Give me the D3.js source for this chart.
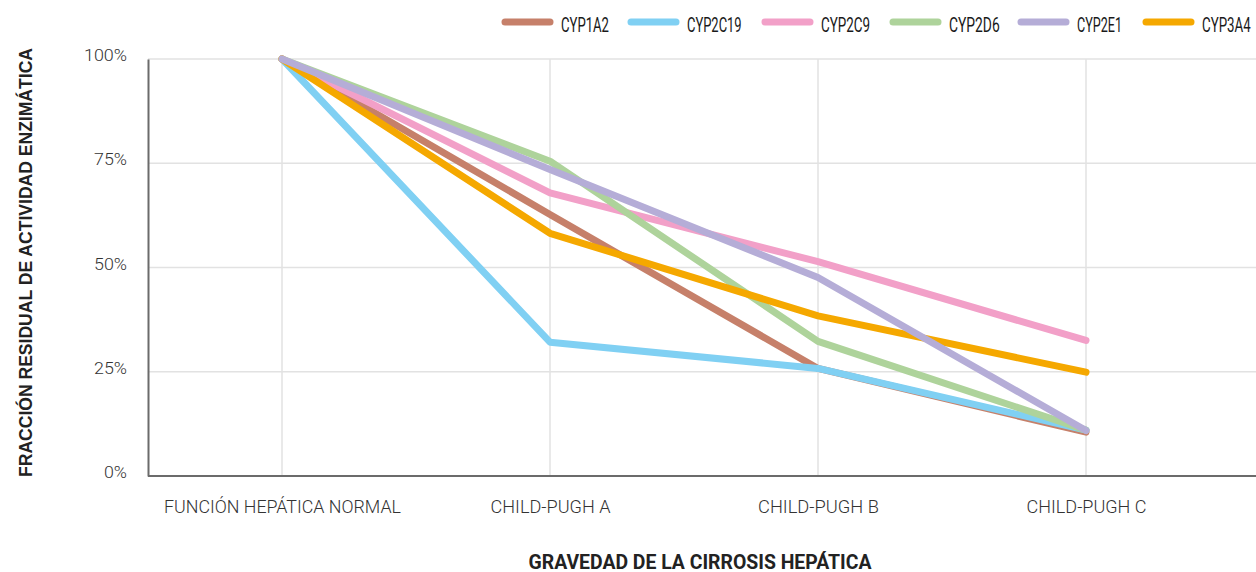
<!DOCTYPE html>
<html><head><meta charset="utf-8">
<script src="https://cdn.jsdelivr.net/npm/d3@7"></script>
<style>
body{margin:0;background:#fff;}
text{font-family:"Roboto","Liberation Sans",sans-serif;}
</style></head>
<body><svg id="c" width="1256" height="572"></svg>
<script>
const categories = ["FUNCIÓN HEPÁTICA NORMAL","CHILD-PUGH A","CHILD-PUGH B","CHILD-PUGH C"];
const seriesNames = ["CYP1A2","CYP2C19","CYP2C9","CYP2D6","CYP2E1","CYP3A4"];
const CYP1A2  = [100, 62.7, 25.8, 10.5];
const CYP2C19 = [100, 32.1, 25.8, 11.0];
const CYP2C9  = [100, 67.9, 51.4, 32.5];
const CYP2D6  = [100, 75.5, 32.3, 11.0];
const CYP2E1  = [100, 73.5, 47.6, 10.9];
const CYP3A4  = [100, 58.2, 38.4, 24.9];
const colors = ["#C6806A","#80D0F3","#F2A0C8","#AED39B","#B5ADD7","#F5A800"];
const yTicks = [0,25,50,75,100];
const xTitle = "GRAVEDAD DE LA CIRROSIS HEPÁTICA";
const yTitle = "FRACCIÓN RESIDUAL DE ACTIVIDAD ENZIMÁTICA";
const values = [CYP1A2,CYP2C19,CYP2C9,CYP2D6,CYP2E1,CYP3A4];
const drawOrder = [0,1,2,3,5,4];

const svg = d3.select("#c");
const pL=148, pR=1256, pT=59, pB=476;
const x = d3.scalePoint().domain(categories).range([148,1220]).padding(0.5);
const y = d3.scaleLinear().domain([0,100]).range([pB,pT]);

// gridlines
svg.append("g").selectAll("line").data(yTicks.filter(d=>d>0)).join("line")
  .attr("x1",pL).attr("x2",pR).attr("y1",d=>y(d)).attr("y2",d=>y(d))
  .attr("stroke","#e2e2e2").attr("stroke-width",1.5);
svg.append("g").selectAll("line").data(categories).join("line")
  .attr("x1",d=>x(d)).attr("x2",d=>x(d)).attr("y1",pT).attr("y2",pB)
  .attr("stroke","#e2e2e2").attr("stroke-width",1.5);

// axes
const yAxis = svg.append("g").attr("transform",`translate(${pL},0)`)
  .call(d3.axisLeft(y).tickValues(yTicks).tickFormat(d=>d+"%").tickSize(0).tickPadding(21));
yAxis.select(".domain").attr("stroke","#6b6b6b").attr("stroke-width",2);
yAxis.selectAll("text").attr("font-size",17).attr("font-weight",300).attr("fill","#333")
  .attr("dy","0.1em").attr("lengthAdjust","spacingAndGlyphs")
  .each(function(d){ const w={0:23,25:33,50:33,75:33,100:43}[d]; d3.select(this).attr("textLength",w); });

const xLabelW = [237,120,121,120];
const xAxis = svg.append("g").attr("transform",`translate(0,${pB})`)
  .call(d3.axisBottom(x).tickSize(0).tickPadding(0));
xAxis.select(".domain").attr("d",`M${pL},0H${pR}`).attr("stroke","#6b6b6b").attr("stroke-width",2);
xAxis.selectAll("text").attr("font-size",18).attr("font-weight",300).attr("fill","#333")
  .attr("dy",null).attr("y",37)
  .attr("textLength",(d,i)=>xLabelW[i]).attr("lengthAdjust","spacingAndGlyphs");

// lines
const line = d3.line().x((d,i)=>x(categories[i])).y(d=>y(d));
svg.append("g").selectAll("path").data(drawOrder).join("path")
  .attr("d",k=>line(values[k])).attr("fill","none")
  .attr("stroke",k=>colors[k]).attr("stroke-width",7)
  .attr("stroke-linecap","round").attr("stroke-linejoin","round");

// titles
svg.append("text").attr("x",700).attr("y",569).attr("text-anchor","middle")
  .attr("font-size",20).attr("font-weight","bold").attr("fill","#222")
  .attr("textLength",343).attr("lengthAdjust","spacingAndGlyphs").text(xTitle);
svg.append("text").attr("transform","translate(31.5,262.5) rotate(-90)").attr("text-anchor","middle")
  .style("font-family","'Liberation Sans', Arial, sans-serif").attr("font-size",18.5).attr("font-weight","bold").attr("fill","#222")
  .attr("textLength",429).attr("lengthAdjust","spacingAndGlyphs").text(yTitle);

// legend
const legX = [502,628,762,890,1018,1143];
const legW = [48,54.6,49,50.7,45,48.7];
const leg = svg.append("g").selectAll("g").data(seriesNames).join("g")
  .attr("transform",(d,i)=>`translate(${legX[i]},22)`);
leg.append("line").attr("x1",3).attr("x2",48).attr("y1",0).attr("y2",0)
  .attr("stroke",(d,i)=>colors[i]).attr("stroke-width",7).attr("stroke-linecap","round");
leg.append("text").attr("x",59).attr("y",10).attr("font-size",20).attr("fill","#1a1a1a")
  .attr("textLength",(d,i)=>legW[i]).attr("lengthAdjust","spacingAndGlyphs").text(d=>d);
</script></body></html>
